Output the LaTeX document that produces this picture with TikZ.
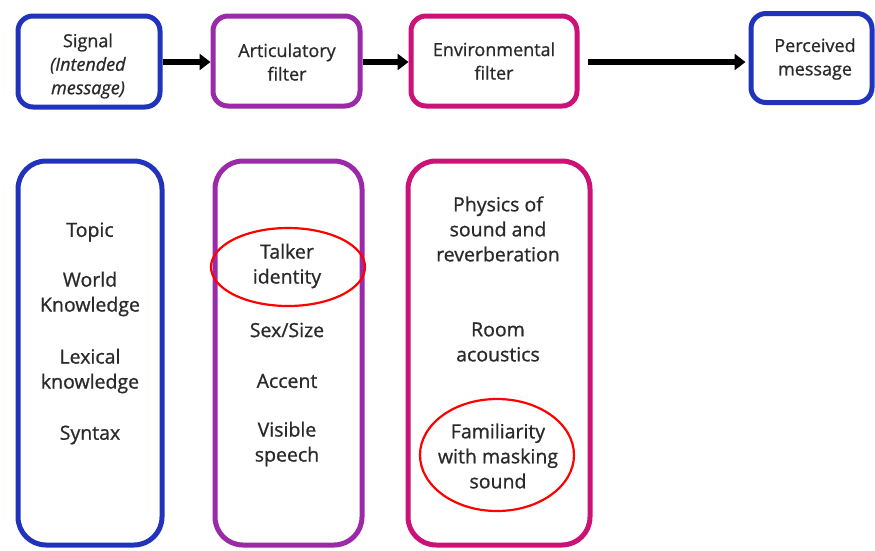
\documentclass[tikz,border=0pt]{standalone}
\usepackage{fontspec}
\setmainfont{Open Sans}[FakeBold=0.9]
\usetikzlibrary{arrows.meta}
\definecolor{cblue}{HTML}{2233BB}
\definecolor{cpurple}{HTML}{9B2AA8}
\definecolor{cmag}{HTML}{CC1177}
\definecolor{ctext}{HTML}{2A2A2A}
\begin{document}
\begin{tikzpicture}[x=1pt,y=-1pt,
  topbox/.style={draw, line width=5pt, rounded corners=15pt, inner sep=0pt},
  colbox/.style={draw, line width=5pt, rounded corners=28pt, inner sep=0pt},
  lbl/.style={text=ctext, align=center, font=\fontsize{19.5}{25}\selectfont, inner sep=0pt},
  tlbl/.style={lbl, font=\fontsize{18}{23.5}\selectfont},
  flow/.style={line width=5.5pt, -{Triangle[length=11pt,width=16pt]}}]
\useasboundingbox (0,0) rectangle (875,550);
% top row
\node[topbox, draw=cblue, minimum width=142pt, minimum height=91pt] (sig) at (89,61.5) {};
\node[topbox, draw=cpurple, minimum width=147pt, minimum height=90pt] (art) at (286.5,61) {};
\node[topbox, draw=cmag, minimum width=166pt, minimum height=90pt] (env) at (494,61) {};
\node[topbox, draw=cblue, minimum width=121pt, minimum height=89pt] (per) at (811.5,58) {};
\node[tlbl] (sigt) at (88,66) {Signal\\\textit{(Intended}\\\textit{message)}};
\node[tlbl] (artt) at (287,62) {Articulatory\\filter};
\node[tlbl] (envt) at (494,61) {Environmental\\filter};
\node[tlbl] (pert) at (815,59) {Perceived\\message};
\draw[flow] (sig.east |- 0,62) -- (art.west |- 0,62);
\draw[flow] (art.east |- 0,62) -- (env.west |- 0,62);
\draw[flow] ([xshift=8pt]env.east |- 0,62) -- ([xshift=-3pt]per.west |- 0,62);
% columns
\node[colbox, draw=cblue, minimum width=144pt, minimum height=384pt] (c1) at (90,353) {};
\node[colbox, draw=cpurple, minimum width=147pt, minimum height=384pt] (c2) at (288.5,353) {};
\node[colbox, draw=cmag, minimum width=182pt, minimum height=384pt] (c3) at (499,353) {};
% column 1 texts
\node[lbl] (topic) at (90,232) {Topic};
\node[lbl] (world) at (90,294) {World\\Knowledge};
\node[lbl] (lex) at (90,371) {Lexical\\knowledge};
\node[lbl] (syn) at (90,435) {Syntax};
% column 2 texts
\node[lbl] (talk) at (287,266) {Talker\\identity};
\node[lbl] (sex) at (287,330) {Sex/Size};
\node[lbl] (acc) at (287,381) {Accent};
\node[lbl] (vis) at (287,444) {Visible\\speech};
% column 3 texts
\node[lbl] (phys) at (498,229) {Physics of\\sound and\\reverberation};
\node[lbl] (room) at (498,342) {Room\\acoustics};
\node[lbl] (fam) at (498,456) {Familiarity\\with masking\\sound};
% highlights
\draw[red, line width=2.2pt] (288,267) ellipse [x radius=77pt, y radius=39pt];
\draw[red, line width=2.2pt] (497,455) ellipse [x radius=77pt, y radius=56pt];
\end{tikzpicture}
\end{document}
